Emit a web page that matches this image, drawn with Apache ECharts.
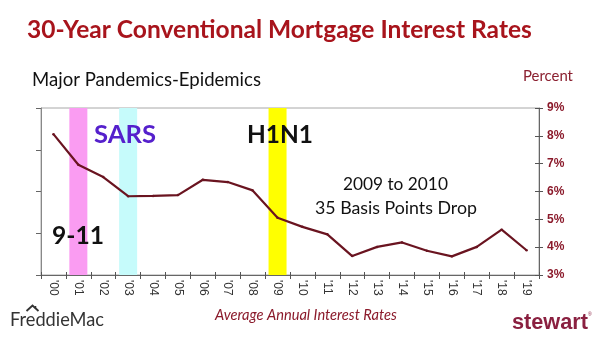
<!DOCTYPE html>
<html><head><meta charset="utf-8">
<script src="https://cdn.jsdelivr.net/npm/echarts@6/dist/echarts.min.js"></script>
<style>html,body{margin:0;padding:0;background:#fff}#c{width:600px;height:338px}</style>
</head><body><div id="c"></div>
<script>
var categories = ["'00","'01","'02","'03","'04","'05","'06","'07","'08","'09","'10","'11","'12","'13","'14","'15","'16","'17","'18","'19"];
var rates = [8.06, 6.96, 6.52, 5.83, 5.84, 5.87, 6.42, 6.34, 6.04, 5.06, 4.73, 4.46, 3.68, 4.01, 4.17, 3.87, 3.67, 4.01, 4.63, 3.89];
var bandCategories = ["'01", "'03", "'09"];
var bandColors = ["#FA9CF2", "#C6FBFB", "#FFFF00"];
var rightTicks = [3, 9, 1];

var CAL = "Lato, 'Open Sans', sans-serif";
var ctx = document.createElement('canvas').getContext('2d');
function fit(text, weight, style, family, width) {
  ctx.font = style + ' ' + weight + ' 100px ' + family;
  return 100 * width / ctx.measureText(text).width;
}
function txt(text, x, y, w, opts) {
  var weight = opts.weight || 'normal', style = opts.style || 'normal', fam = opts.family || CAL;
  var size = fit(text, weight, style, fam, w);
  return {type: 'text', x: x, y: y, z: 100, style: {text: text, fill: opts.color || '#000',
    font: style + ' ' + weight + ' ' + size.toFixed(2) + 'px ' + fam,
    textAlign: opts.align || 'left', textVerticalAlign: 'middle'}};
}

var bandData = categories.map(function (c) {
  var i = bandCategories.indexOf(c);
  return i < 0 ? null : {value: 4, itemStyle: {color: bandColors[i]}};
});

var chart = echarts.init(document.getElementById('c'), null, {renderer: 'canvas'});
chart.setOption({
  animation: false,
  grid: {left: 41, right: 61, top: 108, bottom: 63, show: true, borderColor: '#a8a8a8', borderWidth: 1},
  xAxis: [{
    type: 'category', data: categories, boundaryGap: true,
    axisLine: {lineStyle: {color: '#666', width: 1}},
    axisTick: {show: true, length: 4, lineStyle: {color: '#555'}},
    axisLabel: {rotate: -90, fontSize: 12, color: '#333', fontFamily: 'Liberation Sans', margin: 5}
  }, {
    type: 'category', data: categories, position: 'bottom', boundaryGap: true,
    axisLine: {show: false}, axisTick: {show: true, inside: true, length: 3, lineStyle: {color: '#555'}},
    axisLabel: {show: false}
  }],
  yAxis: [{
    type: 'value', min: 0, max: 4, interval: 1, position: 'left',
    axisLine: {show: true, lineStyle: {color: '#888'}},
    axisTick: {show: true, length: 5, lineStyle: {color: '#666'}},
    axisLabel: {show: false}, splitLine: {show: false}
  }, {
    type: 'value', min: rightTicks[0], max: rightTicks[1], interval: rightTicks[2], position: 'right',
    axisLine: {show: true, lineStyle: {color: '#666'}},
    axisTick: {show: true, length: 4, lineStyle: {color: '#555'}},
    axisLabel: {formatter: '{value}%', color: '#8B1A2B', fontWeight: 'bold', fontSize: 12, fontFamily: 'Liberation Sans', margin: 8},
    splitLine: {show: false}
  }, {
    type: 'value', min: rightTicks[0], max: rightTicks[1], interval: rightTicks[2], position: 'right',
    axisLine: {show: false}, axisTick: {show: true, inside: true, length: 4, lineStyle: {color: '#555'}},
    axisLabel: {show: false}, splitLine: {show: false}
  }],
  series: [{
    type: 'bar', data: bandData, barWidth: 18, xAxisIndex: 0, yAxisIndex: 0, z: 1, silent: true
  }, {
    type: 'line', data: rates, xAxisIndex: 0, yAxisIndex: 1, z: 5,
    lineStyle: {color: '#6A1420', width: 2.2}, itemStyle: {color: '#6A1420'},
    symbol: 'circle', symbolSize: 2.5, showSymbol: true
  }],
  graphic: [
    txt('30-Year Conventional Mortgage Interest Rates', 27, 30, 505, {weight: 'bold', color: '#A8141C'}),
    txt('Major Pandemics-Epidemics', 32, 80, 229, {color: '#111'}),
    txt('Percent', 523, 76.5, 50, {color: '#8B2030'}),
    txt('SARS', 94, 135, 62, {weight: 'bold', color: '#5520CC'}),
    txt('H1N1', 247, 135, 66, {weight: 'bold', color: '#111'}),
    txt('9-11', 52, 236, 52, {weight: 'bold', color: '#111'}),
    txt('2009 to 2010', 343, 184, 105, {color: '#111'}),
    txt('35 Basis Points Drop', 315, 208.5, 162, {color: '#111'}),
    txt('Average Annual Interest Rates', 215, 315, 182, {style: 'italic', color: '#8B1A2B'}),
    txt('FreddieMac', 10, 320.5, 94, {color: '#333'}),
    {type: 'polyline', z: 100, shape: {points: [[26.5, 311], [32.5, 305.5], [38.5, 311]]}, style: {stroke: '#333', lineWidth: 1.8, fill: null}},
    {type: 'line', z: 100, shape: {x1: 35.5, y1: 306, x2: 35.5, y2: 308.5}, style: {stroke: '#333', lineWidth: 1.5}},
    txt('stewart', 512, 323, 76, {weight: 'bold', color: '#8A2040', family: "'Liberation Sans', Arial, sans-serif"}),
    {type: 'text', x: 588, y: 315, z: 100, style: {text: '®', fill: '#8A2040', font: '5px Liberation Sans', textVerticalAlign: 'middle'}}
  ]
});
</script></body></html>
